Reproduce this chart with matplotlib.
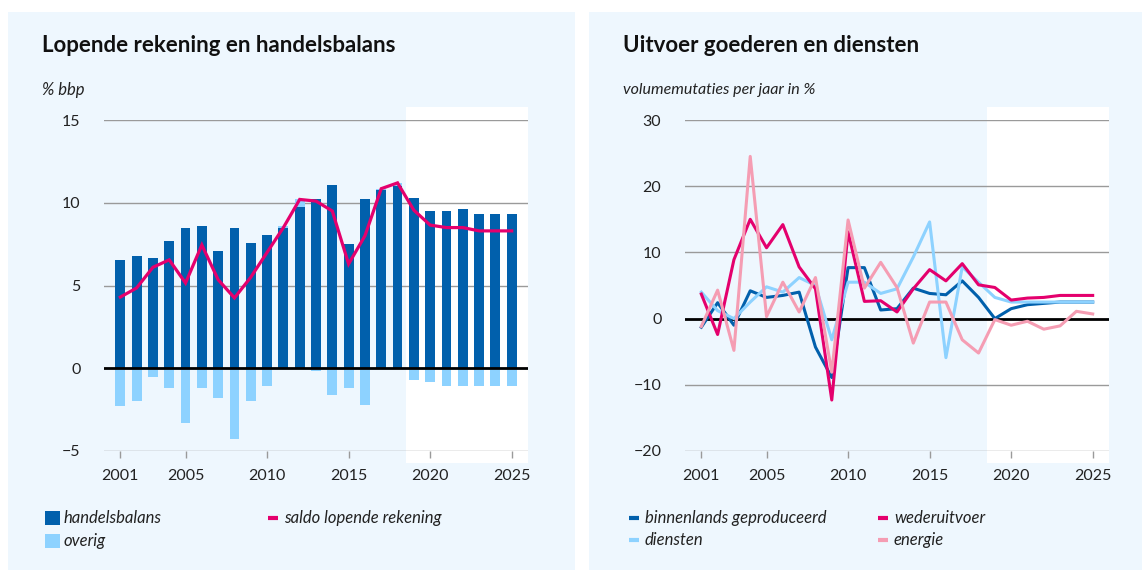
import matplotlib
matplotlib.use('Agg')
import matplotlib.pyplot as plt
from matplotlib.patches import Rectangle
from matplotlib.lines import Line2D

plt.rcParams['font.family'] = ['Lato', 'DejaVu Sans']

# ---- data ----
years = list(range(2001, 2026))

# links: % bbp
handelsbalans = [6.55, 6.8, 6.65, 7.7, 8.45, 8.6, 7.1, 8.5, 7.55, 8.05, 8.5, 9.75, 10.2,
                 11.1, 7.5, 10.2, 10.75, 11.0, 10.3, 9.5, 9.5, 9.6, 9.35, 9.3, 9.35]
overig = [-2.3, -2.0, -0.55, -1.2, -3.3, -1.2, -1.8, -4.3, -2.0, -1.05, 0.1, 0.45, -0.15,
          -1.6, -1.2, -2.2, 0.1, 0.2, -0.7, -0.85, -1.05, -1.05, -1.05, -1.05, -1.1]
saldo = [4.3, 4.85, 6.1, 6.55, 5.15, 7.45, 5.35, 4.25, 5.5, 7.0, 8.5, 10.2, 10.1,
         9.5, 6.3, 8.0, 10.85, 11.2, 9.55, 8.65, 8.5, 8.5, 8.3, 8.3, 8.3]

# rechts: volumemutaties per jaar in %
binnenlands = [-1.3, 2.4, -1.0, 4.2, 3.2, 3.5, 4.0, -4.3, -8.9, 7.7, 7.7, 1.3, 1.5,
               4.6, 3.8, 3.6, 5.7, 3.2, 0.0, 1.5, 2.1, 2.3, 2.5, 2.5, 2.5]
wederuitvoer = [3.7, -2.4, 8.9, 15.0, 10.7, 14.2, 7.8, 4.5, -12.3, 13.1, 2.6, 2.7, 1.0,
                4.5, 7.4, 5.7, 8.3, 5.1, 4.7, 2.8, 3.1, 3.2, 3.5, 3.5, 3.5]
diensten = [4.0, 1.2, 0.0, 2.5, 4.8, 4.0, 6.2, 5.0, -3.2, 5.5, 5.5, 3.8, 4.5,
            9.3, 14.6, -5.9, 7.8, 5.5, 3.2, 2.5, 2.5, 2.5, 2.5, 2.5, 2.5]
energie = [-1.2, 4.3, -4.8, 24.5, 0.3, 5.5, 1.0, 6.2, -8.1, 14.9, 4.6, 8.5, 4.7,
           -3.7, 2.5, 2.5, -3.2, -5.2, -0.15, -1.0, -0.4, -1.6, -1.1, 1.1, 0.7]

xticks = [2001, 2005, 2010, 2015, 2020, 2025]
prognose_start = 2018.5

# ---- kleuren ----
DONKERBLAUW = '#0160AC'
LICHTBLAUW = '#8DD2FF'
MAGENTA = '#E4006D'
ROZE = '#F59DB3'
ACHTERGROND = '#EEF7FE'
GRID = '#9A9A9A'

W, H = 1142, 570
fig = plt.figure(figsize=(W / 100, H / 100), dpi=100)
fig.patch.set_facecolor('white')


def fx(px):
    return px / W


def fy(py):
    return 1 - py / H


# panelen
for x0, x1 in [(8, 575), (589, 1142)]:
    fig.add_artist(Rectangle((fx(x0), 0), fx(x1 - x0), fy(12), transform=fig.transFigure,
                             facecolor=ACHTERGROND, edgecolor='none', zorder=0))


def opmaak(ax, ylim, yticks):
    ax.set_facecolor('none')
    ax.set_xlim(2000, 2026)
    ax.set_ylim(*ylim)
    for s in ax.spines.values():
        s.set_visible(False)
    ax.set_yticks(yticks)
    ax.set_yticklabels([f'{v}'.replace('-', '\u2212') for v in yticks])
    ax.tick_params(axis='y', length=0, pad=17, labelsize=11.5, colors='#222222')
    ax.set_xticks(xticks)
    ax.tick_params(axis='x', length=5, width=1, color=GRID, pad=8, labelsize=11.5,
                   labelcolor='#222222', direction='out')
    for v in yticks:
        if v != 0:
            ax.axhline(v, color=GRID, lw=1, zorder=1)
    # prognosejaren: wit vlak, iets buiten de as
    ax.axvspan(prognose_start, 2026, ymin=-12 / 331, ymax=1 + 13 / 331,
               facecolor='white', edgecolor='none', zorder=0, clip_on=False)


# ---- links ----
ax1 = fig.add_axes([fx(104), fy(451), fx(424), fy(120) - fy(451)])
opmaak(ax1, (-5, 15), [-5, 0, 5, 10, 15])
pos_bottom = [h if o > 0 else 0 for h, o in zip(handelsbalans, overig)]
ax1.bar(years, handelsbalans, width=0.6, color=DONKERBLAUW, zorder=2)
ax1.bar(years, overig, width=0.6, bottom=pos_bottom, color=LICHTBLAUW, zorder=2)
ax1.axhline(0, color='black', lw=2, zorder=3)
ax1.plot(years, saldo, color=MAGENTA, lw=2.3, zorder=4, solid_joinstyle='miter')

fig.text(fx(42), fy(45), 'Lopende rekening en handelsbalans', fontsize=16,
         fontweight='bold', va='center', ha='left', color='#111111')
fig.text(fx(42), fy(90), '% bbp', fontsize=12, style='italic', va='center', ha='left',
         color='#222222')

# ---- rechts ----
ax2 = fig.add_axes([fx(685), fy(451), fx(424), fy(120) - fy(451)])
opmaak(ax2, (-20, 30), [-20, -10, 0, 10, 20, 30])
ax2.axhline(0, color='black', lw=2, zorder=2)
ax2.plot(years, binnenlands, color=DONKERBLAUW, lw=2.2, zorder=3)
ax2.plot(years, diensten, color=LICHTBLAUW, lw=2.2, zorder=4)
ax2.plot(years, wederuitvoer, color=MAGENTA, lw=2.2, zorder=5)
ax2.plot(years, energie, color=ROZE, lw=2.2, zorder=6)

fig.text(fx(623), fy(45), 'Uitvoer goederen en diensten', fontsize=16,
         fontweight='bold', va='center', ha='left', color='#111111')
fig.text(fx(623), fy(90), 'volumemutaties per jaar in %', fontsize=11.5, style='italic',
         va='center', ha='left', color='#222222')

# ---- legenda's ----
def vlak(x, y, kleur, label):
    fig.add_artist(Rectangle((fx(x), fy(y + 7)), fx(15), fy(y - 7) - fy(y + 7),
                             transform=fig.transFigure, facecolor=kleur, edgecolor='none'))
    fig.text(fx(x + 19), fy(y), label, fontsize=12, style='italic', va='center', ha='left',
             color='#222222')


def lijn(x, y, kleur, label):
    fig.add_artist(Line2D([fx(x), fx(x + 10)], [fy(y), fy(y)], transform=fig.transFigure,
                          color=kleur, lw=3, solid_capstyle='butt'))
    fig.text(fx(x + 16), fy(y), label, fontsize=12, style='italic', va='center', ha='left',
             color='#222222')


vlak(45, 518, DONKERBLAUW, 'handelsbalans')
vlak(45, 541, LICHTBLAUW, 'overig')
lijn(268, 518, MAGENTA, 'saldo lopende rekening')

lijn(629, 518, DONKERBLAUW, 'binnenlands geproduceerd')
lijn(629, 540, LICHTBLAUW, 'diensten')
lijn(878, 518, MAGENTA, 'wederuitvoer')
lijn(878, 540, ROZE, 'energie')

fig.savefig('out.png', dpi=100)
